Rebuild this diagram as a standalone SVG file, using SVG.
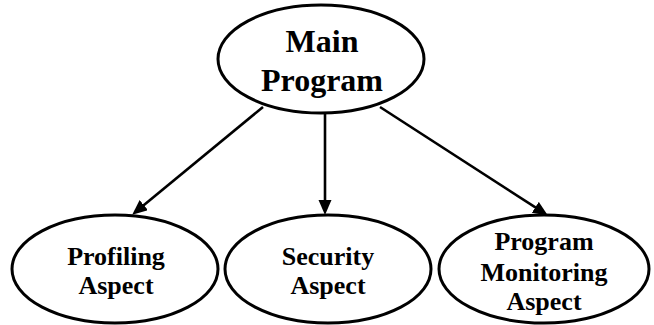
<svg xmlns="http://www.w3.org/2000/svg" width="654" height="325" viewBox="0 0 654 325">
<style>
.node ellipse{fill:#fff;stroke:#000;stroke-width:3}
.label{font-family:"Liberation Serif","Times New Roman",serif;font-weight:bold;fill:#000;text-anchor:middle}
.big{font-size:32px}
.small{font-size:26px}
.conn line{stroke:#000;stroke-width:2.6}
</style>
<defs>
<marker id="arrow" markerUnits="userSpaceOnUse" markerWidth="16" markerHeight="14" refX="8" refY="6.5" orient="auto">
<path d="M0,0 L15,6.5 L0,13 z" fill="#000"/>
</marker>
</defs>
<rect width="654" height="325" fill="#fff"/>
<g id="connectors" class="conn">
<line x1="263" y1="107" x2="137.6" y2="210.2" marker-end="url(#arrow)"/>
<line x1="325" y1="114" x2="325" y2="208" marker-end="url(#arrow)"/>
<line x1="380" y1="107" x2="542" y2="211.7" marker-end="url(#arrow)"/>
</g>
<g id="main-program" class="node">
<ellipse cx="321" cy="59" rx="103" ry="54"/>
<text class="label big" x="322" y="52">Main</text>
<text class="label big" x="322" y="91">Program</text>
</g>
<g id="profiling-aspect" class="node">
<ellipse cx="115" cy="269" rx="103" ry="54"/>
<text class="label small" x="116" y="265">Profiling</text>
<text class="label small" x="116" y="294">Aspect</text>
</g>
<g id="security-aspect" class="node">
<ellipse cx="328" cy="269" rx="103" ry="54"/>
<text class="label small" x="328" y="265">Security</text>
<text class="label small" x="328" y="294">Aspect</text>
</g>
<g id="program-monitoring-aspect" class="node">
<ellipse cx="544" cy="269" rx="105" ry="54"/>
<text class="label small" x="544" y="250">Program</text>
<text class="label small" x="544" y="281">Monitoring</text>
<text class="label small" x="544" y="310">Aspect</text>
</g>
</svg>
